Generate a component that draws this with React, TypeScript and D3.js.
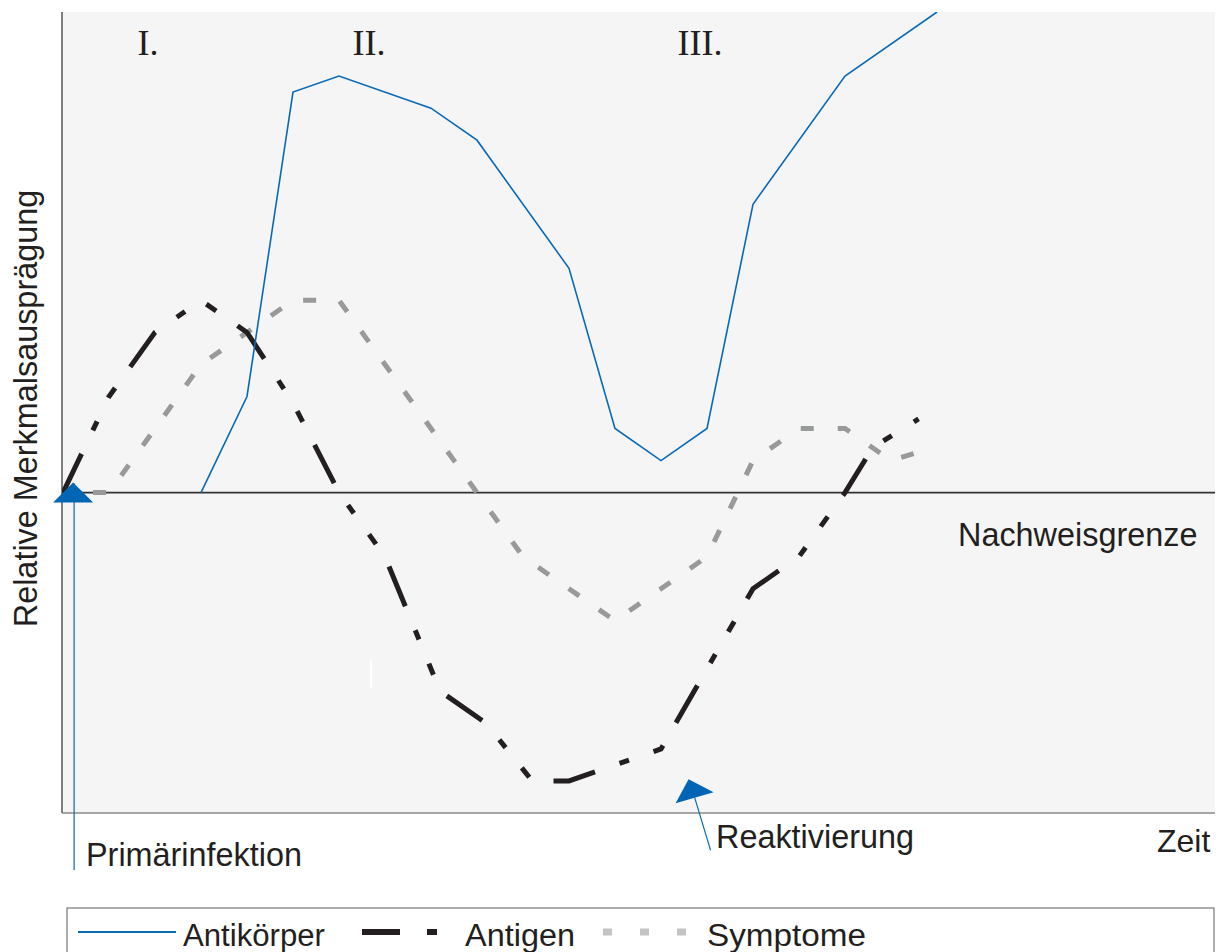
import React from "react";
import * as d3 from "d3";

// ---- data (x in time units, y in relative units; 0 = detection limit) ----
const antibodyT = [3, 4, 5, 6, 8, 9, 11, 12, 13, 14, 15, 17, 19];
const antibodyV = [0, 3, 12.5, 13, 12, 11, 7, 2, 1, 2, 9, 13, 15];

const antigenT = [0, 1, 2, 3, 4, 5, 6, 7, 8.2, 9.2, 10.2, 11, 13, 15, 16, 17, 17.6, 18.6];
const antigenV = [0, 3, 5, 6, 5, 2.8, 0, -2, -6.2, -7.2, -9, -9, -8, -3, -2, 0, 1.4, 2.3];

const symptomT = [0, 1, 2, 3, 4, 5, 6, 7, 8, 9, 10, 11, 12, 13, 14, 15, 16, 17, 18, 18.9];
const symptomV = [0, 0, 2, 4, 5, 6, 6, 4, 2, 0, -2, -3, -4, -3, -2, 1, 2, 2, 1, 1.4];

const phaseLabels = ["I.", "II.", "III."];
const phaseT = [1.85, 6.65, 13.85];

const seriesNames = ["Antikörper", "Antigen", "Symptome"];

const W = 1222;
const H = 952;

export default function App() {
  const x = d3.scaleLinear().domain([0, 25]).range([63, 1213]);
  const y = d3.scaleLinear().domain([-10, 15]).range([813, 12]);

  const line = d3
    .line<[number, number]>()
    .x((d) => x(d[0]))
    .y((d) => y(d[1]))
    .curve(d3.curveLinear);

  const zip = (a: number[], b: number[]) => a.map((t, i) => [t, b[i]] as [number, number]);

  const blue = "#0a69b7";
  const black = "#231f20";
  const gray = "#98999b";

  const y0 = y(0);
  const plotL = 62;
  const plotR = 1215;
  const plotT = 12;
  const plotB = 813;

  // annotation anchors
  const primX = x(0.22);
  const primY = y0 - 9;
  const reX = x(13.6);
  const reY = y(-8.95);

  return (
    <svg
      width={W}
      height={H}
      style={{ position: "absolute", left: 0, top: 0, background: "#fff" }}
      fontFamily="'Liberation Sans', Arial, sans-serif"
    >
      <defs>
        <clipPath id="plotclip">
          <rect x={plotL} y={plotT} width={plotR - plotL} height={plotB - plotT} />
        </clipPath>
      </defs>
      <rect x={plotL} y={plotT} width={plotR - plotL} height={plotB - plotT} fill="#f5f5f5" />
      {/* axes */}
      <line x1={plotL} y1={plotT} x2={plotL} y2={plotB} stroke="#555" strokeWidth={1.5} />
      <line x1={plotL} y1={plotB} x2={plotR} y2={plotB} stroke="#8a8a8a" strokeWidth={1.5} />
      {/* detection limit */}
      <line x1={plotL} y1={y0} x2={plotR} y2={y0} stroke="#333" strokeWidth={1.6} />

      <g clipPath="url(#plotclip)">
        <path
          d={line(zip(symptomT, symptomV)) || ""}
          fill="none"
          stroke={gray}
          strokeWidth={5}
          strokeDasharray="13 24"
          strokeDashoffset={-30}
        />
        <path
          d={line(zip(antigenT, antigenV)) || ""}
          fill="none"
          stroke={black}
          strokeWidth={5}
          strokeDasharray="43 26 10 26 12 26"
        />
        <path d={line(zip(antibodyT, antibodyV)) || ""} fill="none" stroke={blue} strokeWidth={1.6} />
      </g>

      {/* small white artifact */}
      <line x1={x(6.7)} y1={y(-5.2)} x2={x(6.7)} y2={y(-6.1)} stroke="#fff" strokeWidth={2} />

      {/* phase labels */}
      {phaseLabels.map((p, i) => (
        <text
          key={p}
          x={x(phaseT[i])}
          y={55}
          textAnchor="middle"
          fontFamily="'Liberation Serif', 'Times New Roman', serif"
          fontSize={36}
          fill="#231f20"
        >
          {p}
        </text>
      ))}

      <text x={958} y={546} fontSize={32.4} fill="#231f20">
        Nachweisgrenze
      </text>

      {/* primary infection arrow */}
      <line x1={primX + 1} y1={primY} x2={primX + 1} y2={870} stroke={blue} strokeWidth={1.2} />
      <polygon
        points={`${primX},${primY - 1} ${primX - 20},${primY + 19} ${primX + 20},${primY + 19}`}
        fill="#0066b3"
      />
      <text x={86} y={866} fontSize={32.4} fill="#231f20">
        Primärinfektion
      </text>

      {/* reactivation arrow */}
      <line x1={reX + 6} y1={reY + 18} x2={reX + 22} y2={reY + 71} stroke={blue} strokeWidth={1.2} />
      <polygon
        points={`${reX},${reY} ${reX + 25},${reY + 13} ${reX - 13},${reY + 24}`}
        fill="#0066b3"
      />
      <text x={716} y={848} fontSize={32.4} fill="#231f20">
        Reaktivierung
      </text>

      <text x={1157} y={852} fontSize={32} fill="#231f20">
        Zeit
      </text>

      <text
        transform={`translate(37, ${(190 + 627) / 2}) rotate(-90)`}
        textAnchor="middle"
        fontSize={32.4}
        fill="#231f20"
      >
        Relative Merkmalsausprägung
      </text>

      {/* legend */}
      <rect x={67} y={908} width={1147} height={60} fill="#fff" stroke="#777" strokeWidth={1.2} />
      <line x1={78} y1={932} x2={176} y2={932} stroke={blue} strokeWidth={1.8} />
      <text x={183} y={946} fontSize={31} fill="#231f20" textLength={142} lengthAdjust="spacingAndGlyphs">
        {seriesNames[0]}
      </text>
      <line x1={362} y1={932} x2={437} y2={932} stroke={black} strokeWidth={6} strokeDasharray="38 27 10 100" />
      <text x={465} y={946} fontSize={31} fill="#231f20" textLength={110} lengthAdjust="spacingAndGlyphs">
        {seriesNames[1]}
      </text>
      <line x1={603} y1={932} x2={690} y2={932} stroke="#c4c4c4" strokeWidth={7} strokeDasharray="9 28" />
      <text x={707} y={946} fontSize={31} fill="#231f20" textLength={159} lengthAdjust="spacingAndGlyphs">
        {seriesNames[2]}
      </text>
    </svg>
  );
}
